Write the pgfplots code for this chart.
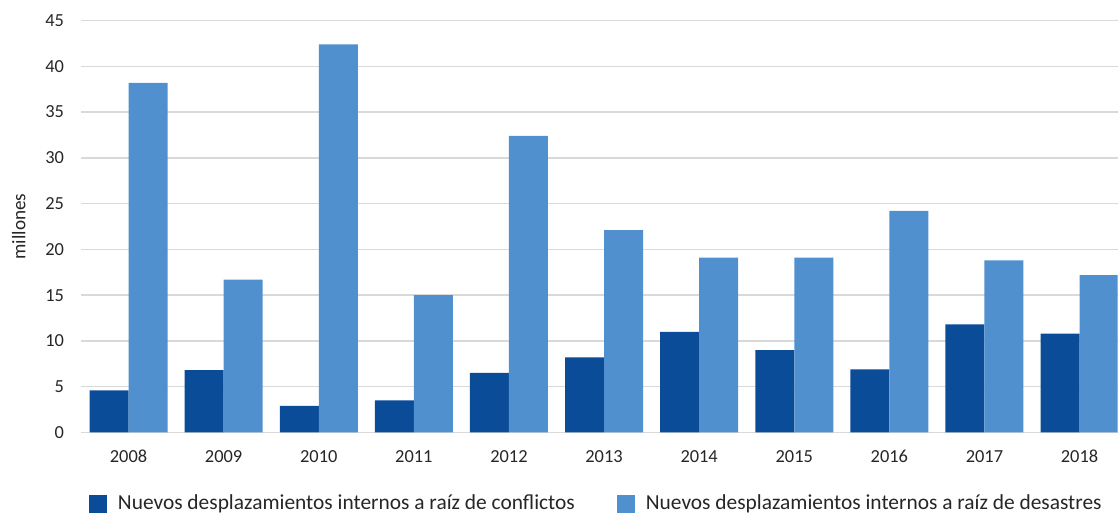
\documentclass[border=0pt]{standalone}
\usepackage{fontspec}
\setmainfont{Carlito}
\usepackage{pgfplots}
\pgfplotsset{compat=1.18}
\definecolor{dark}{RGB}{11,76,153}
\definecolor{light}{RGB}{80,144,206}
\definecolor{gridc}{RGB}{217,217,217}
\definecolor{txt}{RGB}{38,38,38}
\begin{document}
\begin{tikzpicture}
\begin{axis}[
  width=518.3pt, height=206pt, scale only axis,
  ybar=0pt, bar width=19.5pt,
  xmin=-0.5, xmax=10.4, ymin=0, ymax=45,
  xtick={0,...,10},
  xticklabels={2008,2009,2010,2011,2012,2013,2014,2015,2016,2017,2018},
  ytick={0,5,...,45},
  ymajorgrids, grid style={gridc, line width=0.75pt},
  axis lines*=left,
  y axis line style={draw=none},
  x axis line style={gridc, line width=0.75pt, -},
  tick style={draw=none},
  /pgf/number format/assume math mode=true,
  tick label style={font=\fontsize{9.2}{11}\selectfont, text=txt},
  yticklabel style={xshift=-5pt},
  xticklabel style={yshift=-1pt},
  every axis y label/.style={at={(axis description cs:0,0.5)}, xshift=-27.5pt, rotate=90, anchor=south, inner sep=0pt, font=\fontsize{9.6}{11}\selectfont, text=txt},
  ylabel={millones},
  legend style={at={(0.5,0)}, anchor=north, yshift=-27pt, xshift=-1pt, legend columns=2, draw=none, fill=none,
    font=\fontsize{10.7}{12}\selectfont, text=txt,
    /tikz/every odd column/.append style={column sep=3.5pt},
    /tikz/every even column/.append style={column sep=19pt}},
  legend image code/.code={\fill[#1, draw=none] (0pt,-4.5pt) rectangle (9pt,4.5pt);},
]
\addplot[fill=dark, draw=none] coordinates {
(0,4.6) (1,6.8) (2,2.9) (3,3.5) (4,6.5) (5,8.2) (6,11.0) (7,9.0) (8,6.9) (9,11.8) (10,10.8)};
\addplot[fill=light, draw=none] coordinates {
(0,38.2) (1,16.7) (2,42.4) (3,15.0) (4,32.4) (5,22.1) (6,19.1) (7,19.1) (8,24.2) (9,18.8) (10,17.2)};
\legend{Nuevos desplazamientos internos a raíz de conflictos, Nuevos desplazamientos internos a raíz de desastres}
\end{axis}
\pgfresetboundingbox
\path[use as bounding box] (current axis.south west) ++(-40.5pt,-42.25pt) rectangle ++(559.5pt,258.5pt);
\end{tikzpicture}
\end{document}
